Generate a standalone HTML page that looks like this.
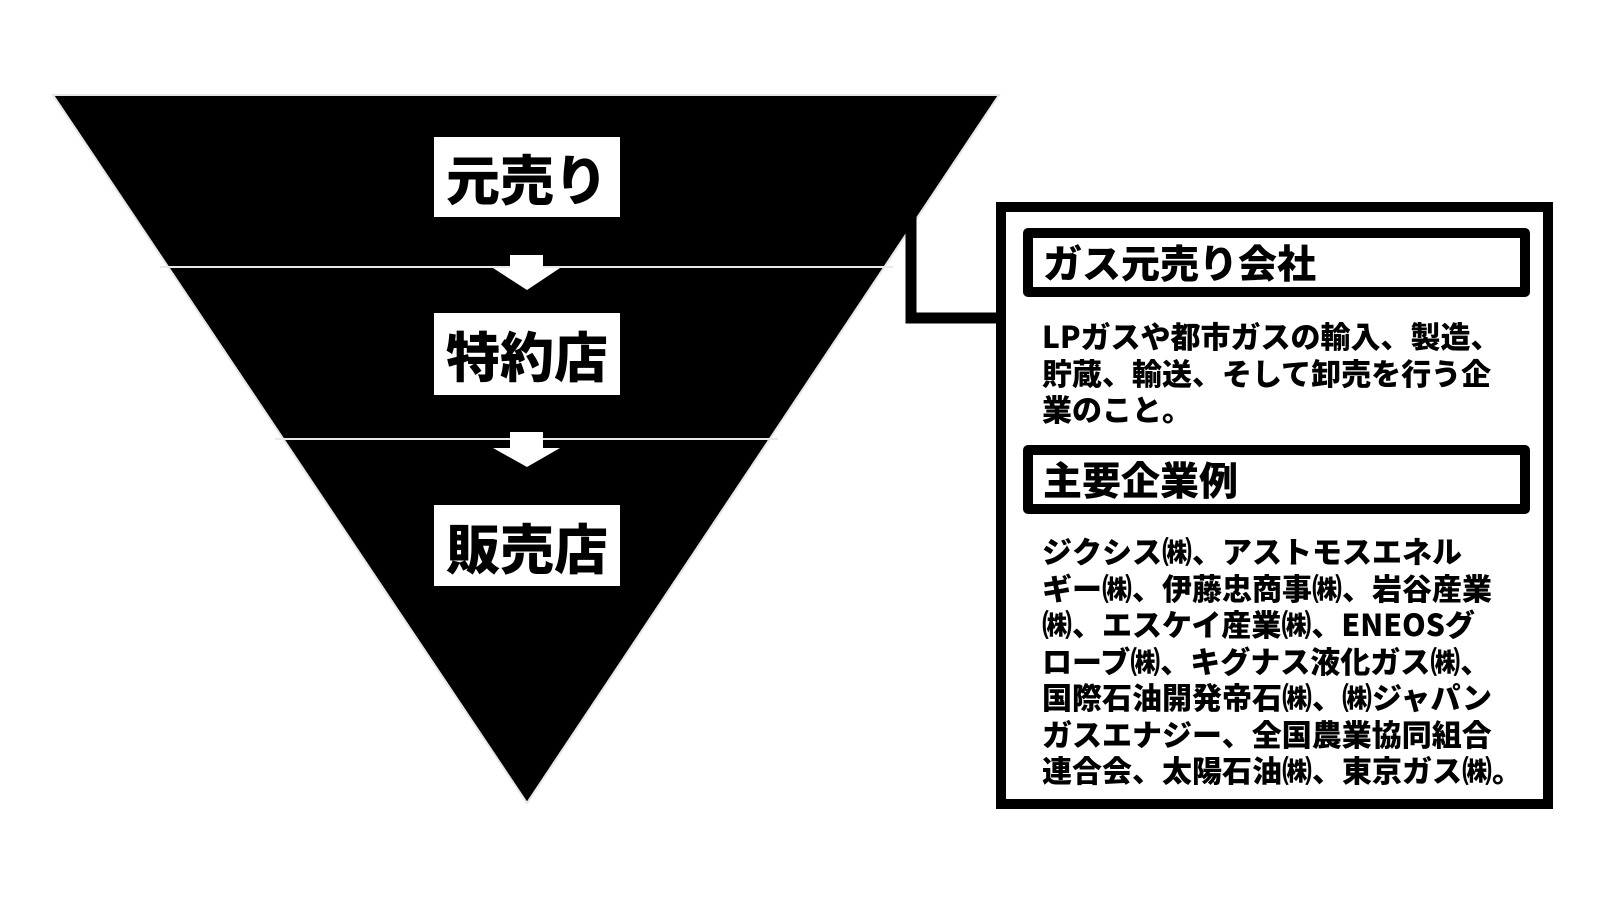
<!DOCTYPE html>
<html><head><meta charset="utf-8"><style>
html,body{margin:0;padding:0;background:#fff;}
body{width:1600px;height:900px;position:relative;overflow:hidden;font-family:"Noto Sans CJK JP","Liberation Sans",sans-serif;font-weight:900;}
.lbl{position:absolute;background:#fff;color:#000;font-size:54px;line-height:80px;text-align:center;left:434px;width:186px;height:80px;white-space:nowrap;}
.box{position:absolute;left:996px;top:202px;width:537px;height:587px;border:10px solid #000;background:#fff;}
.hd{position:absolute;left:17px;width:477px;height:49px;border:10px solid #000;border-radius:5px;font-size:39px;line-height:49px;padding-left:10px;white-space:nowrap;}
.tx{position:absolute;left:36px;width:500px;font-size:30px;line-height:36.5px;white-space:nowrap;}
</style></head><body>
<svg width="1600" height="900" style="position:absolute;left:0;top:0">
<polygon points="53,95 999,95 527,803" fill="#000" stroke="#e6e6e6" stroke-width="2"/>
<line x1="160" y1="267" x2="893" y2="267" stroke="#e8e8e8" stroke-width="2"/>
<line x1="275" y1="439" x2="778" y2="439" stroke="#e8e8e8" stroke-width="2"/>
<polygon points="527,255 543,255 543,268 560,268 527,290 493,268 510,268 510,255" fill="#fff"/>
<polygon points="510,432 543,432 543,448 560,448 527,467 493,448 510,448" fill="#fff"/>
<polyline points="911,212 911,318 996,318" fill="none" stroke="#000" stroke-width="11"/>
</svg>
<div class="lbl" style="top:137px">元売り</div>
<div class="lbl" style="top:313px;height:82px;line-height:82px">特約店</div>
<div class="lbl" style="top:505px;height:81px;line-height:81px">販売店</div>
<div class="box">
<div class="hd" style="top:16px">ガス元売り会社</div>
<div class="tx" style="top:105px">LPガスや都市ガスの輸入、製造、<br>貯蔵、輸送、そして卸売を行う企<br>業のこと。</div>
<div class="hd" style="top:233px">主要企業例</div>
<div class="tx" style="top:320px">ジクシス㈱、アストモスエネル<br>ギー㈱、伊藤忠商事㈱、岩谷産業<br>㈱、エスケイ産業㈱、ENEOSグ<br>ローブ㈱、キグナス液化ガス㈱、<br>国際石油開発帝石㈱、㈱ジャパン<br>ガスエナジー、全国農業協同組合<br>連合会、太陽石油㈱、東京ガス㈱。</div>
</div>
</body></html>
